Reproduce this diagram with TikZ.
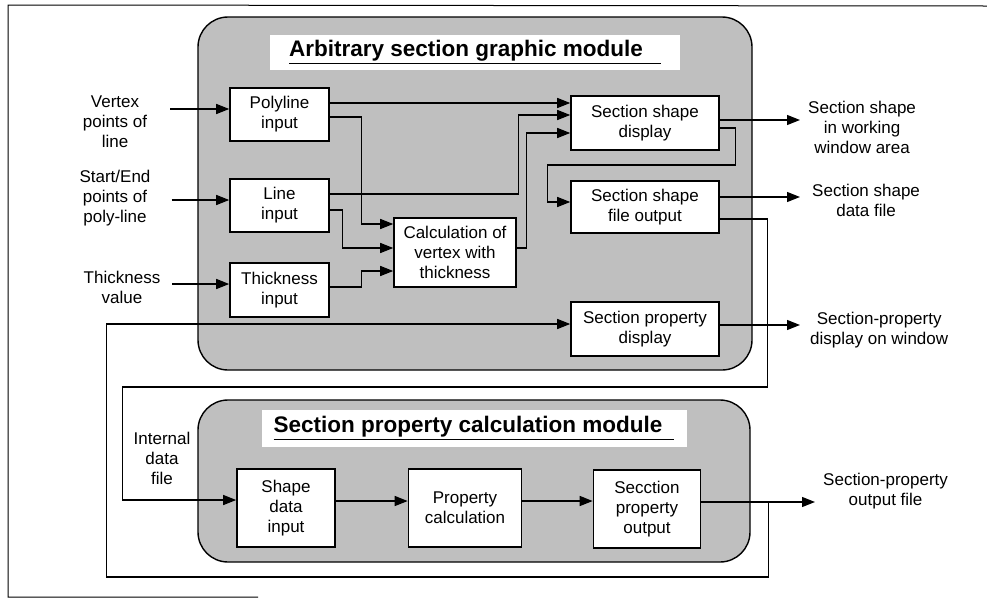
\documentclass[tikz,border=0pt]{standalone}
\usepackage{fontspec}
\setmainfont{Liberation Sans}
\usetikzlibrary{arrows.meta, positioning, calc}

\begin{document}
\begin{tikzpicture}[
    x=1pt, y=-1pt,
    font=\fontsize{17}{20}\selectfont,
    module/.style={draw=black, line width=1.4pt, rounded corners=30pt, fill=black!25},
    titlebar/.style={fill=white, inner sep=0pt, font=\fontsize{22.5}{26}\selectfont\bfseries},
    box/.style={draw=black, line width=1.6pt, fill=white, align=center, inner sep=0pt},
    lbl/.style={align=center, inner sep=0pt},
    arrow/.style={-{Triangle[length=13pt,width=10pt]}, line width=1.3pt}
]

\useasboundingbox (0,0) rectangle (987,598);

% Frame
\draw[line width=1pt] (987,6) -- (8,5) -- (8,597) -- (258,597);

% Modules
\draw[module] (198,17) rectangle (752,370);
\draw[module] (198,400) rectangle (750,562);
\node[titlebar, minimum width=410pt, minimum height=35pt] (t1) at (475,52)
    {\underline{Arbitrary section graphic module\hspace{18pt}}};
\node[titlebar, minimum width=425pt, minimum height=37pt] (t2) at (474,428)
    {\underline{Section property calculation module\hspace{12pt}}};

% Upper module boxes
\node[box, minimum width=99pt, minimum height=53pt] (polyin) at (279.5,114.5) {Polyline\\input};
\node[box, minimum width=99pt, minimum height=53pt] (linein) at (279.5,205.5) {Line\\input};
\node[box, minimum width=99pt, minimum height=54pt] (thickin) at (279.5,290) {Thickness\\input};
\node[box, minimum width=122pt, minimum height=69pt] (calcv) at (455,252.5) {Calculation of\\vertex with\\thickness};
\node[box, minimum width=148pt, minimum height=54pt] (ssdisp) at (645,123) {Section shape\\display};
\node[box, minimum width=148pt, minimum height=52pt] (ssfile) at (645,207) {Section shape\\file output};
\node[box, minimum width=148pt, minimum height=54pt] (spdisp) at (645,329) {Section property\\display};

% Lower module boxes
\node[box, minimum width=98pt, minimum height=78pt] (shapein) at (286,508) {Shape\\data\\input};
\node[box, minimum width=113pt, minimum height=78pt] (propcalc) at (465,508) {Property\\calculation};
\node[box, minimum width=107pt, minimum height=78pt] (propout) at (647,509) {Secction\\property\\output};

% Connectors between boxes
\draw[arrow] ([yshift=11.5pt]polyin.east) -- ([yshift=11.5pt]polyin.east -| ssdisp.west);
\draw[arrow] ([yshift=-2.5pt]polyin.east) -| ([xshift=-32pt,yshift=28.5pt]calcv.west) -- ([yshift=28.5pt]calcv.west);
\draw[arrow] ([yshift=11.5pt]linein.east) -| ([xshift=-52pt,yshift=8pt]ssdisp.west) -- ([yshift=8pt]ssdisp.west);
\draw[arrow] ([yshift=-4.5pt]linein.east) -| ([xshift=-51pt,yshift=4.5pt]calcv.west) -- ([yshift=4.5pt]calcv.west);
\draw[arrow] ([yshift=3pt]thickin.east) -| ([xshift=-32pt,yshift=-18.5pt]calcv.west) -- ([yshift=-18.5pt]calcv.west);
\draw[arrow] ([yshift=4.5pt]calcv.east) -| ([xshift=-44pt,yshift=-10pt]ssdisp.west) -- ([yshift=-10pt]ssdisp.west);
\draw[arrow] ([yshift=-5pt]ssdisp.east) -| ([xshift=16pt,yshift=-42pt]ssdisp.east)
    -| ([xshift=-23pt,yshift=5pt]ssfile.west) -- ([yshift=5pt]ssfile.west);
\draw[arrow] ([yshift=-12pt]ssfile.east) -| ([xshift=48pt,yshift=-180pt]ssfile.east)
    -| ([xshift=-114pt,yshift=8pt]shapein.west) -- ([yshift=8pt]shapein.west);
\draw[arrow] ([yshift=7pt]propout.east) -| ([xshift=67pt,yshift=-68pt]propout.east)
    -| ([xshift=-464pt,yshift=5pt]spdisp.west) -- ([yshift=5pt]spdisp.west);
\draw[arrow] ([yshift=7pt]shapein.east) -- ([yshift=7pt]propcalc.west);
\draw[arrow] ([yshift=7pt]propcalc.east) -- ([yshift=7pt]propcalc.east -| propout.west);

% Labels
\node[lbl] (vtx) at (115,122) {Vertex\\points of\\line};
\node[lbl] (sted) at (115,198) {Start/End\\points of\\poly-line};
\node[lbl] (thv) at (122,287) {Thickness\\value};
\node[lbl] (intf) at (162,458) {Internal\\data\\file};
\node[lbl, anchor=west] (sswin) at (808,127) {Section shape\\in working\\window area};
\node[lbl, anchor=west] (ssdat) at (812,200) {Section shape\\data file};
\node[lbl, anchor=west] (spwin) at (810,330) {Section-property\\display on window};
\node[lbl, anchor=west] (spfile) at (823,491) {Section-property\\output file};

% Input and output arrows
\draw[arrow, shorten <=23pt] ([yshift=5.5pt]vtx.east |- polyin.west) -- ([yshift=5.5pt]polyin.west);
\draw[arrow, shorten <=21pt] ([yshift=5.5pt]sted.east |- linein.west) -- ([yshift=5.5pt]linein.west);
\draw[arrow, shorten <=12pt] ([yshift=6pt]thv.east |- thickin.west) -- ([yshift=6pt]thickin.west);
\draw[arrow, shorten >=8pt] ([yshift=3pt]ssdisp.east) -- ([yshift=3pt]ssdisp.east -| sswin.west);
\draw[arrow, shorten >=12pt] ([yshift=10pt]ssfile.east) -- ([yshift=10pt]ssfile.east -| ssdat.west);
\draw[arrow, shorten >=10pt] ([yshift=4pt]spdisp.east) -- ([yshift=4pt]spdisp.east -| spwin.west);
\draw[arrow, shorten >=8pt] ([yshift=7pt]propout.east) -- ([yshift=7pt]propout.east -| spfile.west);

\end{tikzpicture}
\end{document}
